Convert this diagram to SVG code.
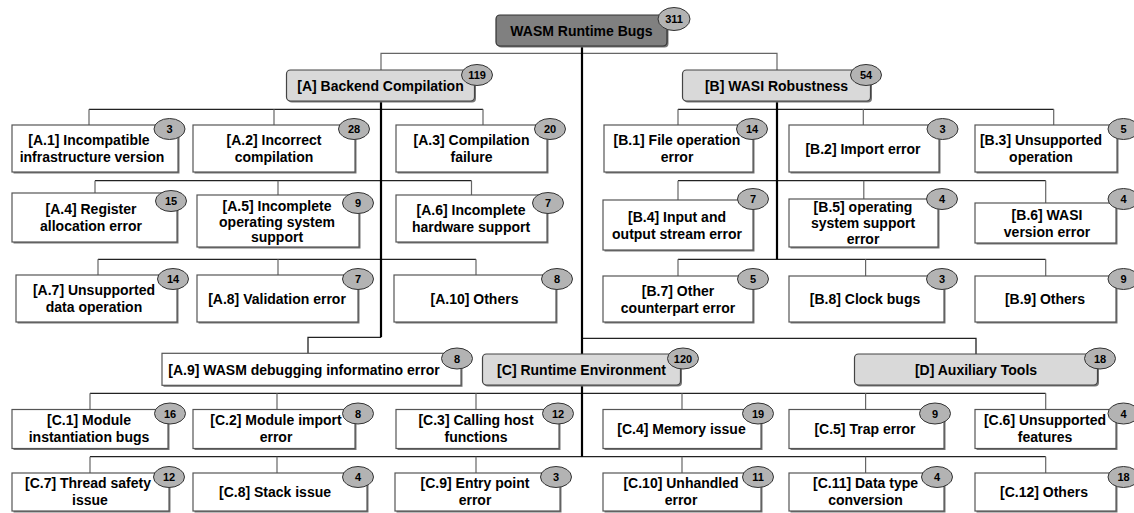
<svg xmlns="http://www.w3.org/2000/svg" width="1134" height="513" viewBox="0 0 1134 513">
<style>
text{font-family:"Liberation Sans",Arial,Helvetica,sans-serif;font-weight:bold;fill:#000}
.t{font-size:14px;text-anchor:middle}
.n{font-size:11px;text-anchor:middle}
.leaf{fill:#fff;stroke:#555;stroke-width:1.2}
.cat{fill:#d9d9d9;stroke:#444;stroke-width:1.2}
.root{fill:#808080;stroke:#333;stroke-width:1.2}
.sh{fill:#777}
.badge{fill:#b3b3b3;stroke:#333;stroke-width:1}
.trunk{fill:none;stroke:#000;stroke-width:2.2}
.bus{fill:none;stroke:#222;stroke-width:1.3}
.drop{fill:none;stroke:#666;stroke-width:1.2}
</style>
<g id="connectors">
<path class="drop" d="M381,70 V53.3 H777 V70"/>
<path class="bus" d="M582,338.3 H976 V354"/>
<path class="bus" d="M381,337.3 H308 V353.3"/>
<path class="bus" d="M89,109.3 H483 M95,180.7 H471.5 M98,259.3 H476 M678,109.3 H1053.7 M678,180.7 H1045.7 M678,259.3 H1045.7 M90,393.3 H1045.7 M90,456.7 H1045.7"/>
<path class="drop" d="M89,109.3 V125 M274,109.3 V125 M483,109.3 V125 M95,180.7 V193 M278,180.7 V195 M471.5,180.7 V195 M98,259.3 V275 M278,259.3 V275 M476,259.3 V275"/>
<path class="drop" d="M678,109.3 V125 M863.3,109.3 V125 M1053.7,109.3 V125 M678,180.7 V200 M863.8,180.7 V199 M1045.7,180.7 V203 M678,259.3 V276 M865.6,259.3 V276 M1045.7,259.3 V276"/>
<path class="drop" d="M90,393.3 V409.5 M277,393.3 V409.5 M476,393.3 V409.5 M682,393.3 V409.5 M865.6,393.3 V409.5 M1045.7,393.3 V409.5 M90,456.7 V473 M277,456.7 V473 M476,456.7 V473 M682,456.7 V473 M865.6,456.7 V473 M1045.7,456.7 V473"/>
<path class="trunk" d="M582,46 V354 M582,385 V456.7 M381,101 V337.3 M777,101 V259.3"/>
</g>
<g id="root">
<rect class="sh" x="497.5" y="16.5" width="171" height="31" rx="4"/>
<rect class="root" x="496" y="15" width="171" height="31" rx="4"/>
<text class="t" x="581.5" y="35.5">WASM Runtime Bugs</text>
<ellipse class="badge" cx="674" cy="19" rx="16" ry="11.5"/>
<text class="n" x="674" y="23">311</text>
</g>
<g id="catA">
<rect class="sh" x="288" y="71.5" width="188" height="31" rx="4"/>
<rect class="cat" x="286.5" y="70" width="188" height="31" rx="4"/>
<text class="t" x="380.5" y="90.5">[A] Backend Compilation</text>
<ellipse class="badge" cx="477" cy="75" rx="15.5" ry="10.5"/>
<text class="n" x="477" y="79">119</text>
</g>
<g id="catB">
<rect class="sh" x="684" y="71.5" width="188" height="31" rx="4"/>
<rect class="cat" x="682.5" y="70" width="188" height="31" rx="4"/>
<text class="t" x="776.5" y="90.5">[B] WASI Robustness</text>
<ellipse class="badge" cx="866" cy="75" rx="15.5" ry="10.5"/>
<text class="n" x="866" y="79">54</text>
</g>
<g id="catC">
<rect class="sh" x="484" y="355.5" width="198" height="31" rx="4"/>
<rect class="cat" x="482.5" y="354" width="198" height="31" rx="4"/>
<text class="t" x="581.5" y="374.5">[C] Runtime Environment</text>
<ellipse class="badge" cx="683" cy="358.5" rx="15.5" ry="10.5"/>
<text class="n" x="683" y="362.5">120</text>
</g>
<g id="catD">
<rect class="sh" x="856" y="355.5" width="243" height="31" rx="4"/>
<rect class="cat" x="854.5" y="354" width="243" height="31" rx="4"/>
<text class="t" x="976" y="374.5">[D] Auxiliary Tools</text>
<ellipse class="badge" cx="1100" cy="358.5" rx="15.5" ry="10.5"/>
<text class="n" x="1100" y="362.5">18</text>
</g>
<g id="A1">
<rect class="sh" x="13.5" y="126.5" width="166" height="47"/>
<rect class="leaf" x="12" y="125" width="166" height="47"/>
<text class="t" x="89" y="145"><tspan x="89">[A.1] Incompatible</tspan><tspan x="92" dy="17">infrastructure version</tspan></text>
<ellipse class="badge" cx="169.5" cy="129" rx="15.5" ry="10.5"/>
<text class="n" x="169.5" y="133">3</text>
</g>
<g id="A2">
<rect class="sh" x="194.5" y="126.5" width="162" height="47"/>
<rect class="leaf" x="193" y="125" width="162" height="47"/>
<text class="t" y="145"><tspan x="274">[A.2] Incorrect</tspan><tspan x="274" dy="17">compilation</tspan></text>
<ellipse class="badge" cx="354" cy="129" rx="15.5" ry="10.5"/>
<text class="n" x="354" y="133">28</text>
</g>
<g id="A3">
<rect class="sh" x="397.5" y="126.5" width="151" height="47"/>
<rect class="leaf" x="396" y="125" width="151" height="47"/>
<text class="t" y="145"><tspan x="471.5">[A.3] Compilation</tspan><tspan x="471.5" dy="17">failure</tspan></text>
<ellipse class="badge" cx="550" cy="129" rx="15.5" ry="10.5"/>
<text class="n" x="550" y="133">20</text>
</g>
<g id="A4">
<rect class="sh" x="13.5" y="194.5" width="165" height="49"/>
<rect class="leaf" x="12" y="193" width="165" height="49"/>
<text class="t" y="214"><tspan x="91">[A.4] Register</tspan><tspan x="91" dy="17">allocation error</tspan></text>
<ellipse class="badge" cx="171" cy="201" rx="15.5" ry="10.5"/>
<text class="n" x="171" y="205">15</text>
</g>
<g id="A5">
<rect class="sh" x="198.5" y="196.5" width="162" height="52"/>
<rect class="leaf" x="197" y="195" width="162" height="52"/>
<text class="t" y="211"><tspan x="277">[A.5] Incomplete</tspan><tspan x="277" dy="15.5">operating system</tspan><tspan x="277" dy="15.5">support</tspan></text>
<ellipse class="badge" cx="358" cy="203" rx="15.5" ry="10.5"/>
<text class="n" x="358" y="207">9</text>
</g>
<g id="A6">
<rect class="sh" x="397.5" y="196.5" width="151" height="47"/>
<rect class="leaf" x="396" y="195" width="151" height="47"/>
<text class="t" y="215"><tspan x="471">[A.6] Incomplete</tspan><tspan x="471" dy="17">hardware support</tspan></text>
<ellipse class="badge" cx="548" cy="203" rx="15.5" ry="10.5"/>
<text class="n" x="548" y="207">7</text>
</g>
<g id="A7">
<rect class="sh" x="17.5" y="276.5" width="161" height="47"/>
<rect class="leaf" x="16" y="275" width="161" height="47"/>
<text class="t" y="295"><tspan x="94">[A.7] Unsupported</tspan><tspan x="94" dy="17">data operation</tspan></text>
<ellipse class="badge" cx="173" cy="279" rx="15.5" ry="10.5"/>
<text class="n" x="173" y="283">14</text>
</g>
<g id="A8">
<rect class="sh" x="198.5" y="276.5" width="161" height="47"/>
<rect class="leaf" x="197" y="275" width="161" height="47"/>
<text class="t" x="277" y="303.5">[A.8] Validation error</text>
<ellipse class="badge" cx="358" cy="279" rx="15.5" ry="10.5"/>
<text class="n" x="358" y="283">7</text>
</g>
<g id="A10">
<rect class="sh" x="395.5" y="276.5" width="162" height="47"/>
<rect class="leaf" x="394" y="275" width="162" height="47"/>
<text class="t" x="474.5" y="303.5">[A.10] Others</text>
<ellipse class="badge" cx="557" cy="279" rx="15.5" ry="10.5"/>
<text class="n" x="557" y="283">8</text>
</g>
<g id="A9">
<rect class="sh" x="163.5" y="354.8" width="299" height="32"/>
<rect class="leaf" x="162" y="353.3" width="299" height="32"/>
<text class="t" x="304" y="374.5">[A.9] WASM debugging informatino error</text>
<ellipse class="badge" cx="457" cy="358.5" rx="15.5" ry="10.5"/>
<text class="n" x="457" y="362.5">8</text>
</g>
<g id="B1">
<rect class="sh" x="605.5" y="126.5" width="149" height="47"/>
<rect class="leaf" x="604" y="125" width="149" height="47"/>
<text class="t" y="145"><tspan x="677">[B.1] File operation</tspan><tspan x="677" dy="17">error</tspan></text>
<ellipse class="badge" cx="752" cy="129" rx="15.5" ry="10.5"/>
<text class="n" x="752" y="133">14</text>
</g>
<g id="B2">
<rect class="sh" x="790.5" y="126.5" width="150" height="47"/>
<rect class="leaf" x="789" y="125" width="150" height="47"/>
<text class="t" x="863" y="153.5">[B.2] Import error</text>
<ellipse class="badge" cx="942.5" cy="129" rx="15.5" ry="10.5"/>
<text class="n" x="942.5" y="133">3</text>
</g>
<g id="B3">
<rect class="sh" x="976.5" y="126.5" width="142" height="47"/>
<rect class="leaf" x="975" y="125" width="142" height="47"/>
<text class="t" y="145"><tspan x="1041">[B.3] Unsupported</tspan><tspan x="1041" dy="17">operation</tspan></text>
<ellipse class="badge" cx="1123.5" cy="129" rx="15.5" ry="10.5"/>
<text class="n" x="1123.5" y="133">5</text>
</g>
<g id="B4">
<rect class="sh" x="604.5" y="201.5" width="150" height="50"/>
<rect class="leaf" x="603" y="200" width="150" height="50"/>
<text class="t" y="221.5"><tspan x="677">[B.4] Input and</tspan><tspan x="677" dy="17">output stream error</tspan></text>
<ellipse class="badge" cx="753" cy="199" rx="15.5" ry="10.5"/>
<text class="n" x="753" y="203">7</text>
</g>
<g id="B5">
<rect class="sh" x="790.5" y="200.5" width="149" height="48"/>
<rect class="leaf" x="789" y="199" width="149" height="48"/>
<text class="t" y="212"><tspan x="863">[B.5] operating</tspan><tspan x="863" dy="16">system support</tspan><tspan x="863" dy="16">error</tspan></text>
<ellipse class="badge" cx="942" cy="199" rx="15.5" ry="10.5"/>
<text class="n" x="942" y="203">4</text>
</g>
<g id="B6">
<rect class="sh" x="976.5" y="204.5" width="141" height="40"/>
<rect class="leaf" x="975" y="203" width="141" height="40"/>
<text class="t" y="220"><tspan x="1047">[B.6] WASI</tspan><tspan x="1047" dy="17">version error</tspan></text>
<ellipse class="badge" cx="1123.5" cy="199" rx="15.5" ry="10.5"/>
<text class="n" x="1123.5" y="203">4</text>
</g>
<g id="B7">
<rect class="sh" x="604.5" y="277.5" width="150" height="46"/>
<rect class="leaf" x="603" y="276" width="150" height="46"/>
<text class="t" y="295.5"><tspan x="678">[B.7] Other</tspan><tspan x="678" dy="17">counterpart error</tspan></text>
<ellipse class="badge" cx="753" cy="279" rx="15.5" ry="10.5"/>
<text class="n" x="753" y="283">5</text>
</g>
<g id="B8">
<rect class="sh" x="790.5" y="277.5" width="155" height="46"/>
<rect class="leaf" x="789" y="276" width="155" height="46"/>
<text class="t" x="865" y="304">[B.8] Clock bugs</text>
<ellipse class="badge" cx="942" cy="279" rx="15.5" ry="10.5"/>
<text class="n" x="942" y="283">3</text>
</g>
<g id="B9">
<rect class="sh" x="976.5" y="277.5" width="141" height="46"/>
<rect class="leaf" x="975" y="276" width="141" height="46"/>
<text class="t" x="1045" y="304">[B.9] Others</text>
<ellipse class="badge" cx="1123.5" cy="279" rx="15.5" ry="10.5"/>
<text class="n" x="1123.5" y="283">9</text>
</g>
<g id="C1">
<rect class="sh" x="13.5" y="411" width="156" height="39"/>
<rect class="leaf" x="12" y="409.5" width="156" height="39"/>
<text class="t" y="425"><tspan x="89">[C.1] Module</tspan><tspan x="89" dy="17">instantiation bugs</tspan></text>
<ellipse class="badge" cx="170" cy="413.5" rx="15.5" ry="10.5"/>
<text class="n" x="170" y="417.5">16</text>
</g>
<g id="C2">
<rect class="sh" x="194.5" y="411" width="162" height="39"/>
<rect class="leaf" x="193" y="409.5" width="162" height="39"/>
<text class="t" y="425"><tspan x="276">[C.2] Module import</tspan><tspan x="276" dy="17">error</tspan></text>
<ellipse class="badge" cx="358" cy="413.5" rx="15.5" ry="10.5"/>
<text class="n" x="358" y="417.5">8</text>
</g>
<g id="C3">
<rect class="sh" x="397.5" y="411" width="163" height="39"/>
<rect class="leaf" x="396" y="409.5" width="163" height="39"/>
<text class="t" y="425"><tspan x="476">[C.3] Calling host</tspan><tspan x="476" dy="17">functions</tspan></text>
<ellipse class="badge" cx="558" cy="413.5" rx="15.5" ry="10.5"/>
<text class="n" x="558" y="417.5">12</text>
</g>
<g id="C4">
<rect class="sh" x="604.5" y="411" width="158" height="39"/>
<rect class="leaf" x="603" y="409.5" width="158" height="39"/>
<text class="t" x="681.5" y="434">[C.4] Memory issue</text>
<ellipse class="badge" cx="758" cy="413.5" rx="15.5" ry="10.5"/>
<text class="n" x="758" y="417.5">19</text>
</g>
<g id="C5">
<rect class="sh" x="790.5" y="411" width="155" height="39"/>
<rect class="leaf" x="789" y="409.5" width="155" height="39"/>
<text class="t" x="865" y="434">[C.5] Trap error</text>
<ellipse class="badge" cx="935" cy="413.5" rx="15.5" ry="10.5"/>
<text class="n" x="935" y="417.5">9</text>
</g>
<g id="C6">
<rect class="sh" x="976.5" y="411" width="141" height="39"/>
<rect class="leaf" x="975" y="409.5" width="141" height="39"/>
<text class="t" y="425"><tspan x="1045">[C.6] Unsupported</tspan><tspan x="1045" dy="17">features</tspan></text>
<ellipse class="badge" cx="1123.5" cy="413.5" rx="15.5" ry="10.5"/>
<text class="n" x="1123.5" y="417.5">4</text>
</g>
<g id="C7">
<rect class="sh" x="13.5" y="474.5" width="157" height="38"/>
<rect class="leaf" x="12" y="473" width="157" height="38"/>
<text class="t" y="488"><tspan x="88">[C.7] Thread safety</tspan><tspan x="90" dy="17">issue</tspan></text>
<ellipse class="badge" cx="169" cy="477" rx="15.5" ry="10.5"/>
<text class="n" x="169" y="481">12</text>
</g>
<g id="C8">
<rect class="sh" x="194.5" y="474.5" width="174" height="38"/>
<rect class="leaf" x="193" y="473" width="174" height="38"/>
<text class="t" x="275" y="497">[C.8] Stack issue</text>
<ellipse class="badge" cx="358" cy="477" rx="15.5" ry="10.5"/>
<text class="n" x="358" y="481">4</text>
</g>
<g id="C9">
<rect class="sh" x="396.5" y="474.5" width="165" height="38"/>
<rect class="leaf" x="395" y="473" width="165" height="38"/>
<text class="t" y="488"><tspan x="475">[C.9] Entry point</tspan><tspan x="475" dy="17">error</tspan></text>
<ellipse class="badge" cx="556" cy="477" rx="15.5" ry="10.5"/>
<text class="n" x="556" y="481">3</text>
</g>
<g id="C10">
<rect class="sh" x="604.5" y="474.5" width="158" height="38"/>
<rect class="leaf" x="603" y="473" width="158" height="38"/>
<text class="t" y="488"><tspan x="681">[C.10] Unhandled</tspan><tspan x="681" dy="17">error</tspan></text>
<ellipse class="badge" cx="758" cy="477" rx="15.5" ry="10.5"/>
<text class="n" x="758" y="481">11</text>
</g>
<g id="C11">
<rect class="sh" x="790.5" y="474.5" width="155" height="38"/>
<rect class="leaf" x="789" y="473" width="155" height="38"/>
<text class="t" y="488"><tspan x="865.5">[C.11] Data type</tspan><tspan x="865.5" dy="17">conversion</tspan></text>
<ellipse class="badge" cx="937" cy="477" rx="15.5" ry="10.5"/>
<text class="n" x="937" y="481">4</text>
</g>
<g id="C12">
<rect class="sh" x="976.5" y="474.5" width="141" height="38"/>
<rect class="leaf" x="975" y="473" width="141" height="38"/>
<text class="t" x="1044" y="497">[C.12] Others</text>
<ellipse class="badge" cx="1123.5" cy="477" rx="15.5" ry="10.5"/>
<text class="n" x="1123.5" y="481">18</text>
</g>
</svg>
